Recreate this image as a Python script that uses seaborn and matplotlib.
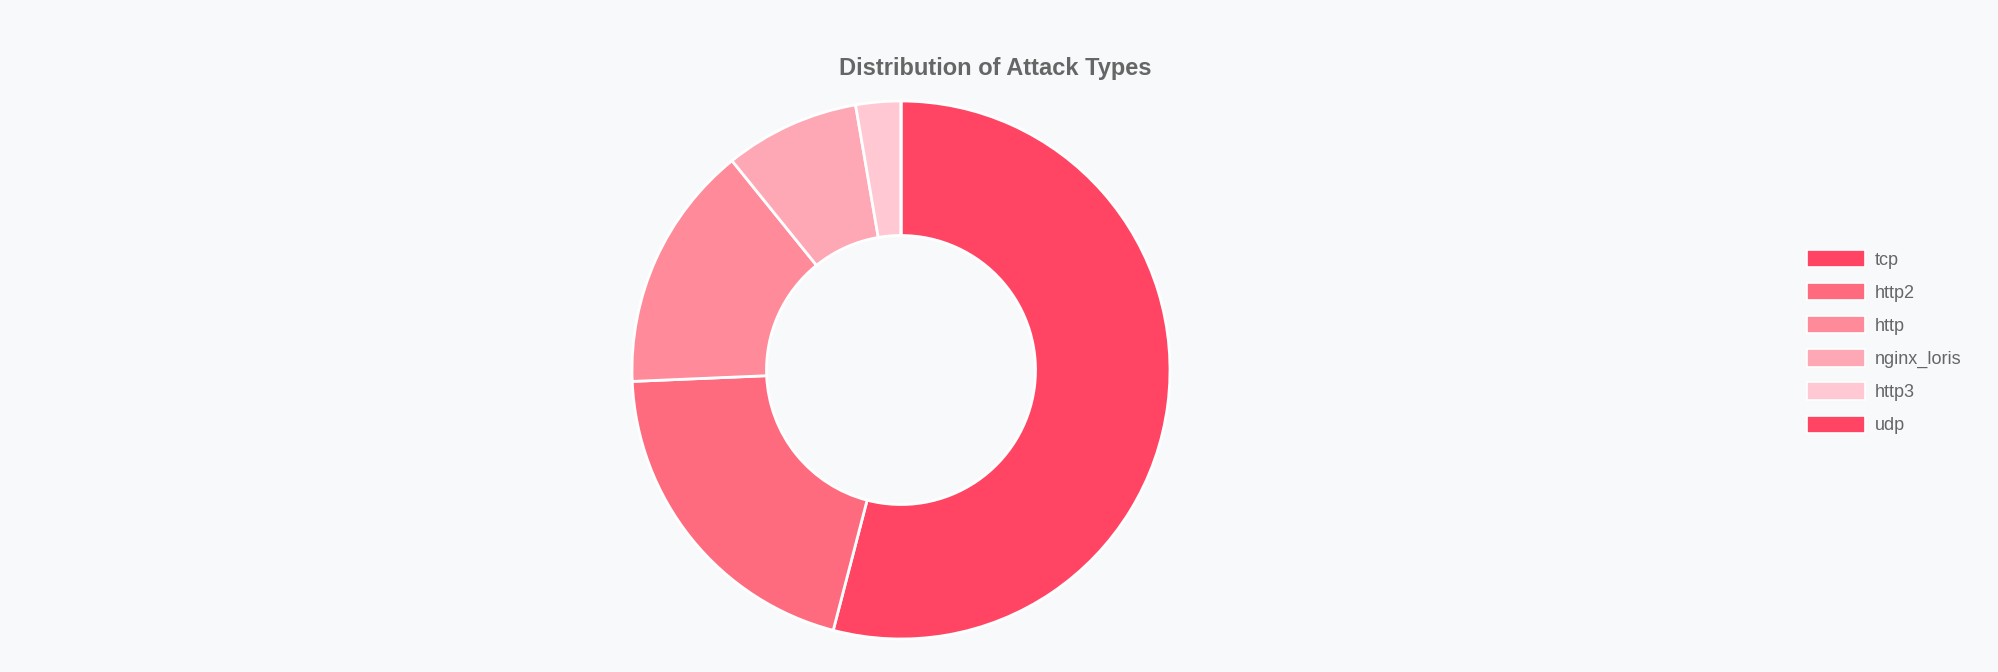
import matplotlib
matplotlib.use("Agg")
import matplotlib.pyplot as plt
import seaborn as sns
from matplotlib.patches import Patch

# Attack counts per type
attack_types = ["tcp", "http2", "http", "nginx_loris", "http3", "udp"]
attack_counts = [40, 15, 11, 6, 2, 0]
slice_colors = ["#FF4563", "#FF6B7E", "#FF8A99", "#FFA8B5", "#FFC8D3", "#FF4563"]

bg = "#F8F9FA"
text_grey = "#666666"

sns.set_theme(style="white")
plt.rcParams["font.family"] = ["Liberation Sans", "DejaVu Sans"]

W, H = 1999, 672
fig = plt.figure(figsize=(W / 100, H / 100), dpi=100, facecolor=bg)

# donut centre ~(901, 370) px, outer radius ~269 px
cx, cy, r = 901, 370, 269
ax = fig.add_axes([(cx - r) / W, (H - cy - r) / H, 2 * r / W, 2 * r / H])
ax.set_facecolor(bg)

ax.pie(attack_counts, colors=slice_colors, startangle=90, counterclock=False,
       radius=1.0, wedgeprops=dict(width=0.5, edgecolor="white", linewidth=2))
ax.set_xlim(-1.0, 1.0)
ax.set_ylim(-1.0, 1.0)
ax.set_aspect("equal")
ax.axis("off")

fig.text(995 / W, 1 - 69 / H, "Distribution of Attack Types", ha="center", va="center",
         fontsize=17, fontweight="bold", color=text_grey)

handles = [Patch(facecolor=c, edgecolor="white", linewidth=1.2) for c in slice_colors]
fig.legend(handles, attack_types, loc="upper left", bbox_to_anchor=(1807 / W, 1 - 250 / H),
           frameon=False, fontsize=13, labelcolor=text_grey, borderpad=0, borderaxespad=0,
           handlelength=3.2, handleheight=1.1, handletextpad=0.55, labelspacing=0.79)

fig.savefig("out.png", dpi=100, facecolor=bg)
